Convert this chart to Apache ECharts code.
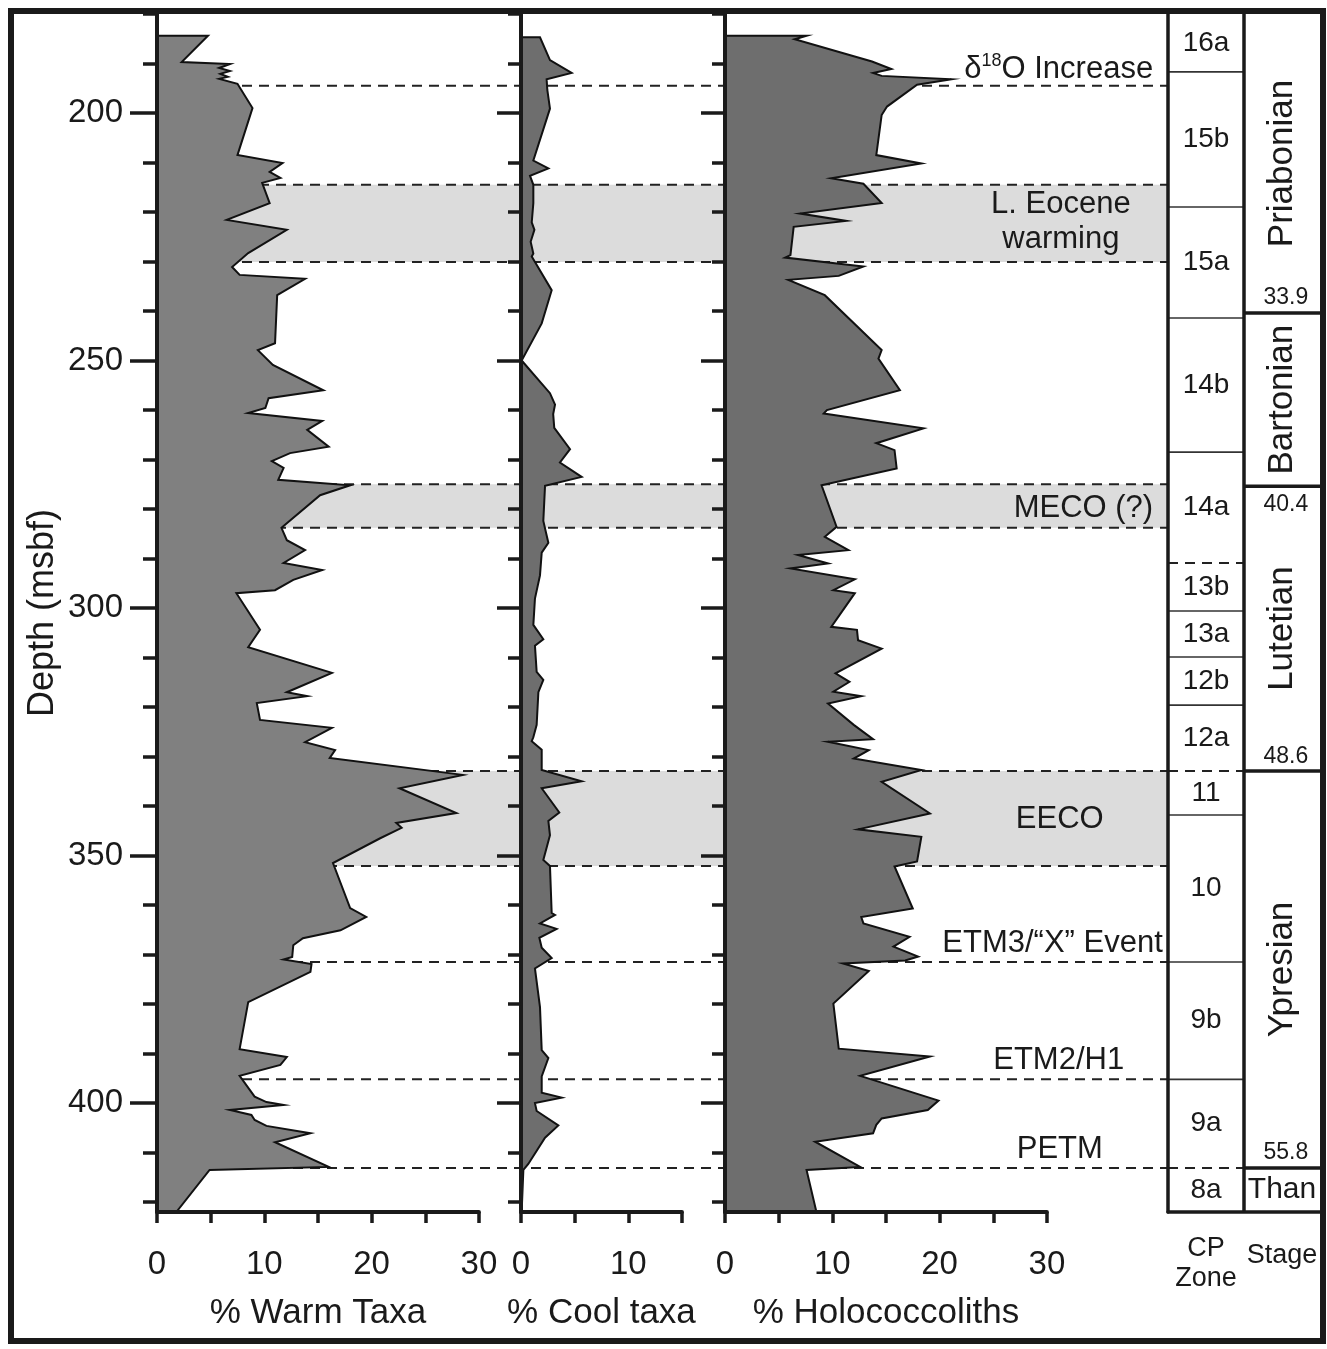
<!DOCTYPE html>
<html>
<head>
<meta charset="utf-8">
<title>Depth profiles</title>
<script src="https://cdn.jsdelivr.net/npm/echarts@6.0.0/dist/echarts.min.js"></script>
<style>
html,body{margin:0;padding:0;background:#ffffff;}
#chart{width:1327px;height:1349px;}
</style>
</head>
<body>
<div id="chart"></div>
<script>
// ---------------- DATA ----------------
// [depth (msbf), percent]
const warmTaxa = [[184.4,4.75],[189.7,2.3],[190.1,6.8],[190.9,5.8],[191.5,6.8],[192.1,5.9],[192.7,6.6],[193.1,5.8],[194.1,7.5],[199.0,8.9],[208.5,7.5],[210.1,11.7],[211.9,10.5],[213.1,11.5],[214.1,9.8],[218.2,10.5],[221.6,6.5],[223.6,12.1],[228.3,8.5],[231.1,7.0],[232.7,7.7],[233.5,13.8],[236.8,11.2],[246.5,11.0],[247.9,9.4],[250.9,10.8],[256.0,15.5],[257.6,10.4],[259.6,10.1],[260.6,8.5],[262.2,15.4],[264.0,14.0],[267.4,16.0],[268.7,12.4],[270.3,10.7],[271.7,11.8],[274.1,11.3],[275.2,18.0],[277.2,15.2],[283.8,11.6],[286.3,12.1],[288.3,13.8],[290.9,11.8],[292.3,15.4],[294.3,12.7],[296.4,11.0],[297.0,7.4],[304.4,9.6],[307.9,8.5],[313.1,16.3],[317.0,12.1],[317.8,14.0],[319.2,9.3],[322.6,9.6],[324.2,16.3],[327.1,13.8],[328.7,16.6],[330.3,16.1],[333.7,28.5],[336.4,22.6],[341.4,27.9],[343.4,22.3],[344.4,22.8],[346.5,20.8],[351.5,16.4],[360.6,18.0],[362.4,19.5],[365.1,17.1],[366.7,13.6],[368.1,12.7],[370.5,12.6],[371.0,11.8],[371.9,14.4],[373.5,14.3],[379.6,8.5],[389.1,7.7],[390.7,12.1],[392.3,11.5],[394.5,7.7],[398.7,9.1],[399.8,10.2],[400.4,11.8],[401.4,6.8],[402.4,8.8],[403.4,9.1],[404.6,10.2],[406.1,14.3],[407.9,11.0],[412.9,16.0],[413.5,4.9],[422.0,1.8]];

const coolTaxa = [[184.7,1.77],[189.3,2.7],[191.9,4.72],[193.2,2.39],[195.3,2.45],[199.1,2.7],[209.6,1.15],[211.2,2.55],[212.7,0.84],[214.5,1.15],[218.2,1.15],[222.1,1.0],[223.6,1.25],[226.0,0.9],[228.4,1.15],[229.0,1.0],[235.8,2.86],[242.5,1.93],[250.0,0.06],[256.6,2.7],[258.9,3.17],[260.8,3.0],[263.6,3.1],[267.9,4.57],[270.6,3.63],[273.5,5.65],[275.3,2.24],[282.4,2.08],[286.8,2.55],[288.8,1.93],[293.4,1.77],[298.1,1.3],[303.4,1.15],[306.3,2.08],[307.6,1.3],[312.9,1.46],[314.5,2.08],[317.0,1.62],[323.6,1.46],[326.1,1.15],[326.9,1.0],[328.6,1.93],[332.7,1.93],[335.0,5.65],[336.4,1.93],[341.3,3.57],[343.0,2.55],[345.9,2.7],[350.9,2.08],[352.1,2.7],[361.6,2.86],[362.0,3.17],[363.7,1.77],[364.8,3.32],[366.6,1.71],[368.6,1.93],[370.7,2.86],[372.8,1.3],[380.6,1.77],[389.3,1.93],[390.9,2.55],[394.6,1.93],[397.9,1.93],[398.9,3.79],[400.0,1.3],[401.6,1.46],[404.5,3.48],[407.0,2.24],[412.3,0.68],[413.5,0.22],[422.0,0.06]];

const holococcoliths = [[184.4,7.6],[185.1,6.5],[189.6,13.7],[191.1,15.5],[191.9,13.8],[192.5,14.6],[193.2,21.1],[194.3,17.9],[198.7,15.1],[200.4,14.6],[208.5,14.1],[210.2,18.3],[213.2,9.9],[214.3,12.9],[218.2,14.6],[220.3,7.0],[221.8,11.3],[223.0,6.4],[228.7,6.1],[229.2,5.6],[231.0,12.9],[232.9,10.6],[233.7,5.9],[236.8,9.3],[247.9,14.6],[249.6,14.3],[256.0,16.3],[260.0,9.5],[260.7,9.2],[263.7,18.5],[266.7,14.1],[268.1,15.8],[271.8,16.0],[275.2,9.0],[283.6,10.4],[285.6,9.3],[288.3,11.5],[289.3,6.8],[291.0,9.6],[292.0,6.1],[294.2,12.1],[296.4,10.1],[297.0,12.1],[303.8,9.9],[304.4,12.3],[306.5,12.4],[308.2,14.6],[313.2,10.3],[314.9,11.6],[316.9,10.1],[317.8,12.7],[319.3,9.6],[323.6,12.0],[326.5,13.8],[327.0,9.6],[328.7,13.4],[330.4,12.0],[332.7,18.3],[335.1,14.6],[341.5,19.1],[344.7,12.4],[346.2,18.3],[351.2,17.9],[352.2,15.8],[360.7,17.5],[362.4,12.7],[363.7,12.9],[366.4,17.2],[368.4,15.7],[370.4,18.0],[371.2,16.8],[371.8,11.0],[373.3,13.4],[379.9,10.1],[389.0,10.6],[390.6,19.1],[394.5,12.6],[399.5,19.9],[401.4,18.9],[403.1,14.6],[404.4,14.1],[406.1,13.8],[407.8,8.4],[412.9,12.6],[413.5,7.6],[421.8,8.5]];

const depthMinorTicks = [180,190,200,210,220,230,240,250,260,270,280,290,300,310,320,330,340,350,360,370,380,390,400,410,420];
const depthMajorTicks = [200,250,300,350,400];

const shadedIntervals = [[214.5,230.1],[275.0,283.8],[332.9,352.1]];
const eventLines = [194.5,371.5,395.2,413.1];

const eventNames = ['δ18O Increase','L. Eocene\nwarming','MECO (?)','EECO','ETM3/“X” Event','ETM2/H1','PETM'];
const eventDepths = [191.3,222.0,279.8,342.8,367.7,391.3,409.3];

const cpZoneNames = ['16a','15b','15a','14b','14a','13b','13a','12b','12a','11','10','9b','9a','8a'];
const cpZoneBounds = [180,191.7,219.0,241.4,268.5,290.9,300.6,309.9,319.6,332.9,341.8,371.5,395.2,413.1,422];
const cpDashedBounds = [290.9,332.9,413.1];

const stageNames = ['Priabonian','Bartonian','Lutetian','Ypresian','Than'];
const stageBounds = [180,240.4,275.4,332.9,413.1,422];
const stageAges = ['33.9','40.4','48.6','55.8'];
const stageAgeDepths = [240.4,275.4,332.9,413.1];

const columnTitles = ['CP\nZone','Stage'];

// ---------------- LAYOUT / STYLE ----------------
const FONT = '"Liberation Sans", Arial, Helvetica, sans-serif';
const INK = '#1a1a1a';
const Y_MIN = 180, Y_MAX = 422;
const TOP = 14, HEIGHT = 1198;
const PX = 10.73; // px per % unit
const P1 = {left:157, width:363}, P2 = {left:521, width:202}, P3 = {left:725, width:443};
const COL = {left:1168, width:152};
// event label anchors in panel-3 units
const eventAnchors = [[39.9,'right'],[31.3,'center'],[39.9,'right'],[31.2,'center'],[40.8,'right'],[31.1,'center'],[31.2,'center']];
const ageOffsets = [-15,18,-14,-15];

function grid(p){ return {left:p.left, top:TOP, width:p.width, height:HEIGHT, outerBoundsMode:'none', containLabel:false}; }

const grids = [
  grid(P1), grid(P2), grid(P3),
  grid({left:P1.left, width:30*PX}), grid({left:P2.left, width:15*PX}), grid({left:P3.left, width:30*PX}),
  grid(COL),
  grid({left:P1.left, width:COL.left-P1.left})
];

function hiddenX(gi, max){ return {type:'value', gridIndex:gi, min:0, max:max, show:false}; }
function hiddenY(gi){ return {type:'value', gridIndex:gi, min:Y_MIN, max:Y_MAX, inverse:true, show:false}; }

function labelAxis(gi, max, name){
  return {type:'value', gridIndex:gi, min:0, max:max, interval:5, position:'bottom', z:5,
    axisLine:{show:true, onZero:false, lineStyle:{color:INK, width:4}},
    axisTick:{show:true, length:11, lineStyle:{color:INK, width:3.5}},
    axisLabel:{show:true, margin:36, fontSize:33, fontFamily:FONT, color:INK,
      formatter: v => (v % 10 === 0 ? String(v) : '')},
    splitLine:{show:false},
    name:name, nameLocation:'middle', nameGap:84,
    nameTextStyle:{fontSize:35, fontFamily:FONT, color:INK}};
}

function minorY(gi, len){
  return {type:'value', gridIndex:gi, min:Y_MIN, max:Y_MAX, inverse:true, position:'left', z:5,
    axisLine:{show:true, onZero:false, lineStyle:{color:INK, width:4}},
    axisTick:{show:true, customValues:depthMinorTicks, length:len, lineStyle:{color:INK, width:3.5}},
    axisLabel:{show:false}, splitLine:{show:false}};
}
function majorY(gi, len, withLabels){
  const a = {type:'value', gridIndex:gi, min:Y_MIN, max:Y_MAX, inverse:true, position:'left', z:5,
    axisLine:{show:false},
    axisTick:{show:true, customValues:depthMajorTicks, length:len, lineStyle:{color:INK, width:3.5}},
    axisLabel:{show:!!withLabels, customValues:depthMajorTicks, margin:34, fontSize:33, fontFamily:FONT, color:INK},
    splitLine:{show:false}};
  if (withLabels){
    a.name = 'Depth (msbf)'; a.nameLocation = 'middle'; a.nameGap = 96;
    a.nameTextStyle = {fontSize:36, fontFamily:FONT, color:INK};
  }
  return a;
}

const xAxes = [
  hiddenX(0, P1.width/PX), hiddenX(1, P2.width/PX), hiddenX(2, P3.width/PX),
  labelAxis(3, 30, '% Warm Taxa'), labelAxis(4, 15, '% Cool taxa'), labelAxis(5, 30, '% Holococcoliths'),
  {type:'category', gridIndex:6, position:'bottom', data:columnTitles, z:5,
    axisLine:{show:true, lineStyle:{color:INK, width:3.5}}, axisTick:{show:false},
    axisLabel:{interval:0, margin:22, fontSize:27, lineHeight:30, fontFamily:FONT, color:INK, verticalAlign:'top',
      formatter: v => (v === 'Stage' ? '{st|Stage}' : v),
      rich:{st:{fontSize:27, fontFamily:FONT, color:INK, padding:[14,0,0,0]}}}},
  {type:'value', gridIndex:6, position:'top', min:0, max:2, show:false},
  hiddenX(7, 1)
];
const yAxes = [
  minorY(0, 14), majorY(0, 27, true),   // 0,1
  minorY(1, 13), majorY(1, 24, false),  // 2,3
  minorY(2, 13), majorY(2, 24, false),  // 4,5
  hiddenY(3), hiddenY(4), hiddenY(5),   // 6,7,8
  {type:'value', gridIndex:6, min:Y_MIN, max:Y_MAX, inverse:true, position:'left', z:5,
    axisLine:{show:true, lineStyle:{color:INK, width:3.5}}, axisTick:{show:false}, axisLabel:{show:false}, splitLine:{show:false}}, // 9
  hiddenY(7) // 10
];

function profileSeries(pairs, xi, yi, fill){
  return {type:'custom', xAxisIndex:xi, yAxisIndex:yi, z:3, silent:true,
    data: pairs.map(p => [p[1], p[0]]),
    encode:{x:0, y:1},
    renderItem: function(params, api){
      if (params.dataIndex !== 0) return null;
      const pts = [api.coord([0, pairs[0][0]])];
      for (const p of pairs) pts.push(api.coord([p[1], p[0]]));
      pts.push(api.coord([0, pairs[pairs.length-1][0]]));
      return {type:'polygon', shape:{points:pts},
        style:{fill:fill, stroke:'#111111', lineWidth:2, lineJoin:'miter'}};
    }};
}

const DASH = [10,7];

const series = [
  { // shaded climatic intervals
    type:'custom', xAxisIndex:8, yAxisIndex:10, z:1, silent:true,
    data: shadedIntervals.map(b => [0, b[0], b[1]]), encode:{x:0, y:[1,2]},
    renderItem: function(params, api){
      const a = api.coord([0, api.value(1)]), b = api.coord([1, api.value(2)]);
      return {type:'group', children:[
        {type:'rect', shape:{x:a[0], y:a[1], width:b[0]-a[0], height:b[1]-a[1]}, style:{fill:'#dcdcdc'}},
        {type:'line', shape:{x1:a[0], y1:a[1], x2:b[0], y2:a[1]}, style:{stroke:'#222', lineWidth:2, lineDash:DASH}},
        {type:'line', shape:{x1:a[0], y1:b[1], x2:b[0], y2:b[1]}, style:{stroke:'#222', lineWidth:2, lineDash:DASH}}
      ]};
    }
  },
  { // event lines
    type:'custom', xAxisIndex:8, yAxisIndex:10, z:1, silent:true,
    data: eventLines.map(d => [0, d]), encode:{x:0, y:1},
    renderItem: function(params, api){
      const a = api.coord([0, api.value(1)]), b = api.coord([1, api.value(1)]);
      return {type:'line', shape:{x1:a[0], y1:a[1], x2:b[0], y2:b[1]}, style:{stroke:'#222', lineWidth:2, lineDash:DASH}};
    }
  },
  profileSeries(warmTaxa, 0, 0, '#808080'),
  profileSeries(coolTaxa, 1, 2, '#6e6e6e'),
  profileSeries(holococcoliths, 2, 4, '#6e6e6e'),
  { // event labels
    type:'custom', xAxisIndex:2, yAxisIndex:4, z:6, silent:true,
    data: eventDepths.map((d,i) => [eventAnchors[i][0], d]), encode:{x:0, y:1},
    renderItem: function(params, api){
      const i = params.dataIndex;
      const c = api.coord([api.value(0), api.value(1)]);
      const name = eventNames[i];
      const style = {fill:INK, fontSize:31, fontFamily:FONT, align:eventAnchors[i][1], verticalAlign:'middle', lineHeight:35};
      if (name.indexOf('δ18O') === 0){
        style.text = '{n|δ}{s|18}{n|' + name.slice(3) + '}';
        style.rich = {n:{fontSize:31, fontFamily:FONT, fill:INK}, s:{fontSize:18, fontFamily:FONT, fill:INK, verticalAlign:'top', padding:[0,0,10,0]}};
      } else {
        style.text = name;
      }
      return {type:'text', x:c[0], y:c[1], style:style};
    }
  },
  { // CP zones
    type:'custom', xAxisIndex:7, yAxisIndex:9, z:4, silent:true,
    data: cpZoneNames.map((n,i) => [0.5, cpZoneBounds[i], cpZoneBounds[i+1]]), encode:{x:0, y:[1,2]},
    renderItem: function(params, api){
      const t = api.value(1), b = api.value(2);
      const c = api.coord([0.5, (t+b)/2]);
      const l = api.coord([0, b]), r = api.coord([1, b]);
      const ch = [{type:'text', x:c[0], y:c[1], style:{text:cpZoneNames[params.dataIndex], fill:INK, fontSize:28, fontFamily:FONT, align:'center', verticalAlign:'middle'}}];
      if (b < Y_MAX){
        const dashed = cpDashedBounds.indexOf(b) >= 0;
        ch.push({type:'line', shape:{x1:l[0], y1:l[1], x2:r[0], y2:r[1]},
          style:{stroke:dashed ? '#222' : '#333', lineWidth:dashed ? 2 : 1.6, lineDash:dashed ? DASH : null}});
      }
      return {type:'group', children:ch};
    }
  },
  { // Stages
    type:'custom', xAxisIndex:7, yAxisIndex:9, z:4, silent:true,
    data: stageNames.map((n,i) => [1.5, stageBounds[i], stageBounds[i+1]]), encode:{x:0, y:[1,2]},
    renderItem: function(params, api){
      const i = params.dataIndex;
      const t = api.value(1), b = api.value(2);
      const c = api.coord([1.5, (t+b)/2]);
      const tall = (b - t) > 20;
      const ch = [{type:'text', x:c[0], y:c[1], rotation: tall ? Math.PI/2 : 0,
        style:{text:stageNames[i], fill:INK, fontSize: tall ? 35 : 30, fontFamily:FONT, align:'center', verticalAlign:'middle'}}];
      if (b < Y_MAX){
        const l = api.coord([1, b]), r = api.coord([2, b]);
        ch.push({type:'line', shape:{x1:l[0], y1:l[1], x2:r[0], y2:r[1]}, style:{stroke:INK, lineWidth:3.5}});
      }
      if (i === 0){
        const a = api.coord([1, Y_MIN]), z = api.coord([1, Y_MAX]);
        ch.push({type:'line', shape:{x1:a[0], y1:a[1], x2:z[0], y2:z[1]}, style:{stroke:INK, lineWidth:3.5}});
      }
      if (i < stageAges.length){
        const p = api.coord([1.55, stageAgeDepths[i]]);
        ch.push({type:'text', x:p[0], y:p[1] + ageOffsets[i], style:{text:stageAges[i], fill:INK, fontSize:23, fontFamily:FONT, align:'center', verticalAlign:'middle'}});
      }
      return {type:'group', children:ch};
    }
  }
];

const chart = echarts.init(document.getElementById('chart'), null, {renderer:'canvas'});
chart.setOption({
  animation:false,
  backgroundColor:'#ffffff',
  textStyle:{fontFamily:FONT},
  grid: grids,
  xAxis: xAxes,
  yAxis: yAxes,
  series: series,
  graphic:[{type:'rect', z:100, silent:true,
    shape:{x:11, y:11, width:1312, height:1330},
    style:{fill:'none', stroke:INK, lineWidth:6}}]
});
</script>
</body>
</html>
